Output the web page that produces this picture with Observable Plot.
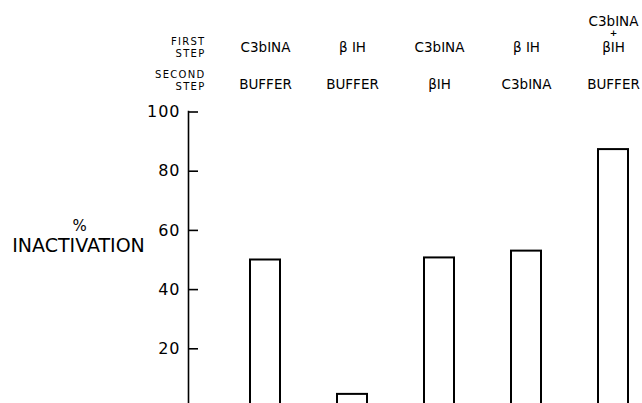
<!DOCTYPE html>
<html><head><meta charset="utf-8">
<script src="https://cdn.jsdelivr.net/npm/d3@7"></script>
<script src="https://cdn.jsdelivr.net/npm/@observablehq/plot@0.6"></script>
<style>
body{margin:0;background:#fff;}
svg{display:block}
g[aria-label="y-axis tick label"] text{letter-spacing:1px}
g.rowlab text{letter-spacing:1.3px}
</style>
</head><body><div id="chart"></div>
<script>
const firstStep = ["C3bINA", "β IH", "C3bINA", "β IH", "C3bINA\n+\nβIH"];
const secondStep = ["BUFFER", "BUFFER", "βIH", "C3bINA", "BUFFER"];
const inactivation = [50, 4.6, 50.7, 53, 87.3];
const yTicks = [20, 40, 60, 80, 100];
const rowLabels = ["FIRST\nSTEP", "SECOND\nSTEP"];
const yLabel = ["%", "INACTIVATION"];

const keys = firstStep.map((f, i) => `${i + 1}`);
const data = keys.map((k, i) => ({key: k, first: firstStep[i], second: secondStep[i], value: inactivation[i]}));
// split multi-line first-step labels into stacked pieces (level 0 = bottom line)
const firstLines = data.flatMap(d => d.first.split("\n").reverse().map((t, j) => ({key: d.key, text: t, level: j})));

const chart = Plot.plot({
  width: 642, height: 403,
  marginLeft: 188, marginRight: 0, marginTop: 111, marginBottom: 0,
  style: {fontFamily: "DejaVu Sans", background: "white", color: "black"},
  x: {type: "band", domain: keys, range: [188, 642], paddingInner: 0.66, paddingOuter: 0.41, align: 0.81, axis: null},
  y: {domain: [0, 100], range: [407.5, 111.5], axis: null},
  marks: [
    Plot.barY(data, {x: "key", y: "value", fill: "white", stroke: "black", strokeWidth: 2}),
    Plot.frame({anchor: "left", strokeWidth: 1.6}),
    Plot.tickY(yTicks, {y: d => d, insetRight: 444, strokeWidth: 1.6}),
    Plot.axisY({ticks: yTicks, tickSize: 0, tickPadding: 8, fontSize: 16, anchor: "left", label: null}),
    Plot.text(firstLines.filter(d => d.level === 0), {x: "key", text: "text", frameAnchor: "top", lineAnchor: "middle", dy: -63.5, fontSize: 13.5}),
    Plot.text(firstLines.filter(d => d.level === 1), {x: "key", text: "text", frameAnchor: "top", lineAnchor: "middle", dy: -78, fontSize: 9, fontWeight: "bold"}),
    Plot.text(firstLines.filter(d => d.level === 2), {x: "key", text: "text", frameAnchor: "top", lineAnchor: "middle", dy: -90, fontSize: 13.5}),
    Plot.text(data, {x: "key", text: "second", frameAnchor: "top", lineAnchor: "middle", dy: -26.5, fontSize: 13.5}),
    Plot.text([rowLabels[0]], {text: d => d, frameAnchor: "top-left", lineAnchor: "middle", dx: 17, dy: -64.3, textAnchor: "end", fontSize: 10, lineHeight: 1.2, className: "rowlab"}),
    Plot.text([rowLabels[1]], {text: d => d, frameAnchor: "top-left", lineAnchor: "middle", dx: 17, dy: -31.3, textAnchor: "end", fontSize: 10, lineHeight: 1.2, className: "rowlab"}),
    Plot.text([yLabel[0]], {text: d => d, frameAnchor: "left", dx: -109, dy: -31, fontSize: 15, textAnchor: "middle"}),
    Plot.text([yLabel[1]], {text: d => d, frameAnchor: "left", dx: -110, dy: -12, fontSize: 19, textAnchor: "middle"})
  ]
});
document.getElementById("chart").appendChild(chart);
</script>
</body></html>
